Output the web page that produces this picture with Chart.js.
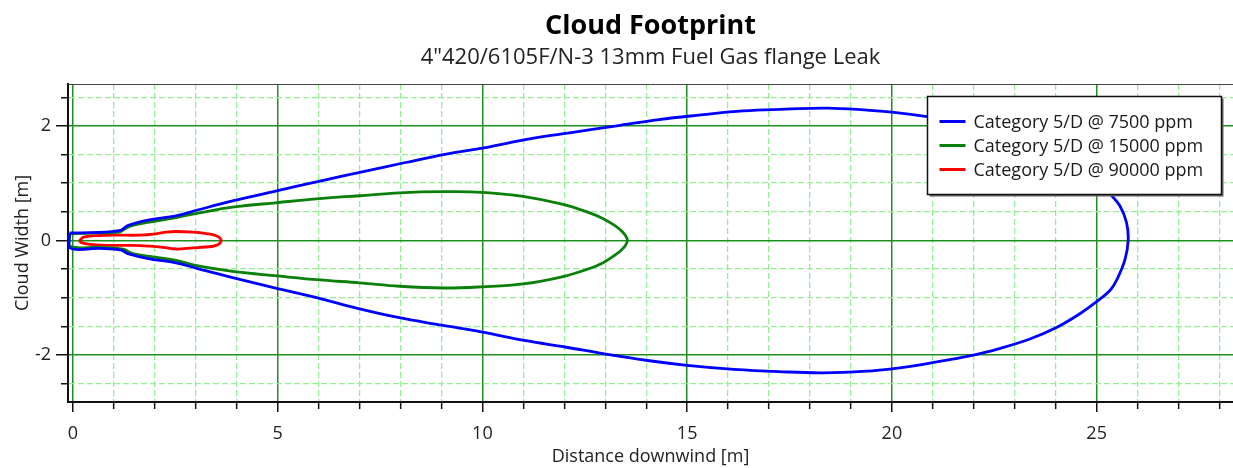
<!DOCTYPE html>
<html>
<head>
<meta charset="utf-8">
<title>Cloud Footprint</title>
<script src="https://cdn.jsdelivr.net/npm/chart.js@4.4.0/dist/chart.umd.min.js"></script>
<style>
  html, body { margin: 0; padding: 0; background: #fff; }
  #wrap { width: 1233px; height: 468px; }
</style>
</head>
<body>
<div id="wrap"><canvas id="footprint" width="1233" height="468"></canvas></div>
<script>
// contours: x = distance downwind [m], y = cloud width [m]
const seriesLabels = ['Category 5/D @ 7500 ppm', 'Category 5/D @ 15000 ppm', 'Category 5/D @ 90000 ppm'];
const seriesColors = ['#0000ff', '#0a800a', '#ff0000'];

const ppm7500X = [-0.08, 0.65, 1.18, 1.34, 1.87, 2.52, 3.09, 3.9, 5.0, 6.06, 7.09, 8.12, 9.15, 10.0, 11.22, 12.25, 13.28, 14.31, 15.34, 16.37, 17.4, 18.43, 19.46, 20.0, 20.86, 21.5, 22.5, 23.4, 24.0, 24.6, 25.0, 25.33, 25.57, 25.73, 25.77,
  25.69, 25.49, 25.33, 25.0, 24.59, 24.02, 23.37, 22.56, 21.99, 21.34, 20.53, 20.0, 19.42, 18.33, 17.24, 16.14, 15.0, 14.08, 12.98, 12.02, 11.06, 10.0, 9.01, 7.91, 6.81, 5.85, 5.0, 3.9, 3.09, 2.52, 1.87, 1.34, 1.18, 0.65, -0.08, -0.08];
const ppm7500Y = [0.13, 0.14, 0.18, 0.26, 0.36, 0.43, 0.54, 0.69, 0.87, 1.04, 1.20, 1.36, 1.51, 1.61, 1.78, 1.89, 2.0, 2.11, 2.19, 2.26, 2.29, 2.31, 2.27, 2.24, 2.16, 2.08, 1.92, 1.72, 1.53, 1.28, 1.05, 0.81, 0.60, 0.31, 0,
  -0.34, -0.69, -0.87, -1.07, -1.28, -1.52, -1.72, -1.90, -2.0, -2.09, -2.19, -2.24, -2.28, -2.31, -2.29, -2.25, -2.18, -2.10, -1.98, -1.86, -1.75, -1.60, -1.48, -1.34, -1.16, -0.98, -0.84, -0.65, -0.50, -0.39, -0.32, -0.23, -0.17, -0.14, -0.13, 0.13];

const ppm15000X = [-0.08, 0.65, 1.14, 1.26, 1.46, 1.87, 2.52, 3.09, 3.9, 5.0, 6.03, 7.0, 7.98, 9.04, 9.99, 10.99, 11.97, 12.62, 12.95, 13.19, 13.36, 13.48, 13.54,
  13.48, 13.36, 13.19, 12.95, 12.62, 11.97, 10.99, 9.99, 9.04, 7.98, 7.0, 6.03, 5.0, 3.9, 3.09, 2.52, 1.87, 1.46, 1.22, 0.65, -0.08, -0.08];
const ppm15000Y = [0.115, 0.13, 0.145, 0.20, 0.26, 0.32, 0.40, 0.48, 0.58, 0.66, 0.73, 0.78, 0.83, 0.85, 0.84, 0.77, 0.63, 0.48, 0.38, 0.28, 0.19, 0.10, 0,
  -0.10, -0.19, -0.28, -0.39, -0.49, -0.63, -0.76, -0.81, -0.83, -0.80, -0.74, -0.69, -0.62, -0.54, -0.45, -0.35, -0.28, -0.23, -0.15, -0.12, -0.10, 0.115];

const ppm90000X = [0.16, 0.28, 0.65, 1.06, 1.63, 2.03, 2.28, 2.52, 2.93, 3.25, 3.5, 3.62, 3.5, 3.25, 2.93, 2.52, 2.2, 1.87, 1.46, 0.89, 0.41, 0.2, 0.16];
const ppm90000Y = [0, 0.06, 0.086, 0.092, 0.092, 0.115, 0.144, 0.156, 0.144, 0.12, 0.08, 0, -0.086, -0.115, -0.13, -0.15, -0.12, -0.1, -0.086, -0.086, -0.07, -0.035, 0];

const xTickLabels = [0, 5, 10, 15, 20, 25];
const yTickLabels = [-2, 0, 2];

const FONT = "'Open Sans', 'Noto Sans', sans-serif";
Chart.defaults.font.family = FONT;
Chart.defaults.color = '#222';

function toPoints(xs, ys) {
  return xs.map((x, i) => ({ x: x, y: ys[i] }));
}

const isMajorX = (c) => c.tick && xTickLabels.includes(c.tick.value);
const isMajorY = (c) => c.tick && yTickLabels.includes(c.tick.value);

// legend drawn inside the plot, top right, with a white box
const boxLegend = {
  id: 'boxLegend',
  afterDatasetsDraw(chart) {
    const ctx = chart.ctx;
    const area = chart.chartArea;
    const w = 294, h = 98;
    const x = area.right - 11.5 - w;
    const y = area.top + 12.5;
    ctx.save();
    ctx.fillStyle = '#666';
    ctx.fillRect(x + 2, y + 2, w, h);
    ctx.fillStyle = '#fff';
    ctx.fillRect(x, y, w, h);
    ctx.strokeStyle = '#111';
    ctx.lineWidth = 1.5;
    ctx.strokeRect(x, y, w, h);
    ctx.font = '18px ' + FONT;
    ctx.textBaseline = 'middle';
    ctx.textAlign = 'left';
    chart.data.datasets.forEach((ds, i) => {
      const ly = y + 25 + i * 24;
      ctx.strokeStyle = ds.borderColor;
      ctx.lineWidth = 3;
      ctx.beginPath();
      ctx.moveTo(x + 12, ly);
      ctx.lineTo(x + 38, ly);
      ctx.stroke();
      ctx.fillStyle = '#1a1a1a';
      ctx.fillText(ds.label, x + 46, ly + 1);
    });
    ctx.restore();
  }
};

// thin frame line along the top of the plot
const topFrame = {
  id: 'topFrame',
  beforeDatasetsDraw(chart) {
    const ctx = chart.ctx;
    const a = chart.chartArea;
    ctx.save();
    ctx.strokeStyle = '#444';
    ctx.lineWidth = 1;
    ctx.beginPath();
    ctx.moveTo(a.left, a.top + 0.5);
    ctx.lineTo(a.right, a.top + 0.5);
    ctx.stroke();
    ctx.restore();
  }
};

const datasets = [
  [ppm7500X, ppm7500Y],
  [ppm15000X, ppm15000Y],
  [ppm90000X, ppm90000Y]
].map((s, i) => ({
  label: seriesLabels[i],
  data: toPoints(s[0], s[1]),
  showLine: true,
  borderColor: seriesColors[i],
  backgroundColor: seriesColors[i],
  borderWidth: 2.8,
  pointRadius: 0,
  pointHoverRadius: 0,
  tension: 0.4,
  fill: false
}));

new Chart(document.getElementById('footprint'), {
  type: 'scatter',
  data: { datasets: datasets },
  plugins: [topFrame, boxLegend],
  options: {
    responsive: false,
    animation: false,
    events: [],
    layout: { padding: 0 },
    plugins: {
      legend: { display: false },
      tooltip: { enabled: false },
      title: {
        display: true,
        text: 'Cloud Footprint',
        fullSize: false,
        color: '#000',
        font: { size: 27, weight: 'bold', lineHeight: 1.2 },
        padding: { top: 10, bottom: 0 }
      },
      subtitle: {
        display: true,
        text: '4"420/6105F/N-3 13mm Fuel Gas flange Leak',
        fullSize: false,
        color: '#222',
        font: { size: 22, lineHeight: 1.2 },
        padding: { top: 1.7, bottom: 13.5 }
      }
    },
    scales: {
      x: {
        type: 'linear',
        min: -0.12,
        max: 28.33,
        afterFit(scale) { scale.height = 66; },
        title: {
          display: true,
          text: 'Distance downwind [m]',
          font: { size: 18 },
          padding: { top: 0, bottom: 0 }
        },
        ticks: {
          stepSize: 1,
          includeBounds: false,
          maxTicksLimit: 100,
          autoSkip: false,
          maxRotation: 0,
          padding: 11,
          font: { size: 18 },
          callback: (v) => xTickLabels.includes(v) ? String(v) : ''
        },
        border: {
          color: '#111',
          width: 2,
          dash: (c) => (c.tick && !isMajorX(c)) ? [6, 3] : []
        },
        grid: {
          tickLength: 10,
          color: (c) => isMajorX(c) ? '#1f8f1f' : '#95ee95',
          lineWidth: (c) => isMajorX(c) ? 1.5 : 1.3,
          tickColor: '#111',
          tickWidth: 1.5,
          tickBorderDash: (c) => isMajorX(c) ? [] : [6, 20]
        }
      },
      y: {
        type: 'linear',
        min: -2.82,
        max: 2.73,
        afterFit(scale) { scale.width = 68; },
        title: {
          display: true,
          text: 'Cloud Width [m]',
          font: { size: 18 },
          padding: { top: 12, bottom: 0 }
        },
        ticks: {
          stepSize: 0.5,
          includeBounds: false,
          maxTicksLimit: 100,
          autoSkip: false,
          padding: 5,
          font: { size: 18 },
          callback: (v) => yTickLabels.includes(v) ? String(v) : ''
        },
        border: {
          color: '#111',
          width: 2,
          dash: (c) => (c.tick && !isMajorY(c)) ? [6, 3] : []
        },
        grid: {
          tickLength: 12,
          color: (c) => isMajorY(c) ? '#1f8f1f' : '#95ee95',
          lineWidth: (c) => isMajorY(c) ? 1.5 : 1.3,
          tickColor: '#111',
          tickWidth: 1.5,
          tickBorderDash: (c) => isMajorY(c) ? [] : [0, 5, 7, 20]
        }
      }
    }
  }
});
</script>
</body>
</html>
